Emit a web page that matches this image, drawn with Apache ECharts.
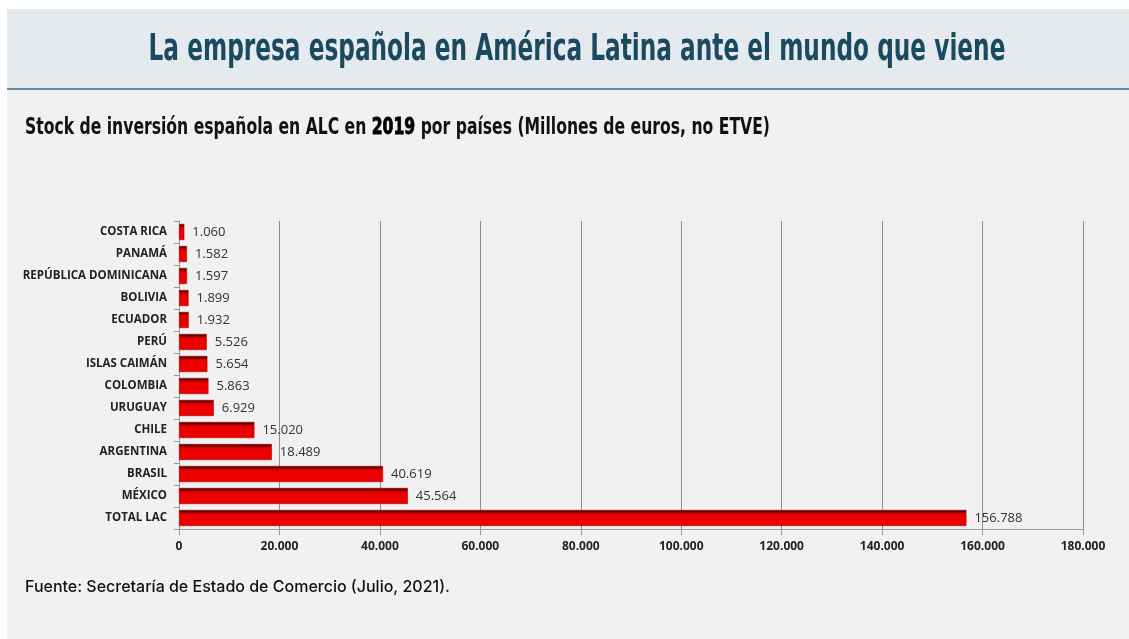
<!DOCTYPE html>
<html>
<head>
<meta charset="utf-8">
<script src="https://cdn.jsdelivr.net/npm/echarts@6/dist/echarts.min.js"></script>
<style>
html,body{margin:0;padding:0;background:#ffffff;}
#c{width:1129px;height:639px;}
</style>
</head>
<body>
<div id="c"></div>
<script>
var categories = ['COSTA RICA','PANAMÁ','REPÚBLICA DOMINICANA','BOLIVIA','ECUADOR','PERÚ','ISLAS CAIMÁN','COLOMBIA','URUGUAY','CHILE','ARGENTINA','BRASIL','MÉXICO','TOTAL LAC'];
var values = [1060,1582,1597,1899,1932,5526,5654,5863,6929,15020,18489,40619,45564,156788];
var axisMin = 0, axisMax = 180000, axisStep = 20000;
var titleText = 'La empresa española en América Latina ante el mundo que viene';
var subtitleParts = ['Stock de inversión española en ALC en ', '2019', ' por países (Millones de euros, no ETVE)'];
var sourceText = 'Fuente: Secretaría de Estado de Comercio (Julio, 2021).';

function fmt(v){
  return String(Math.round(v)).replace(/\B(?=(\d{3})+(?!\d))/g, '.');
}

var condensed = '"DejaVu Sans Condensed", "Liberation Sans Narrow", sans-serif';
var chart = echarts.init(document.getElementById('c'), null, {renderer:'canvas'});
var option = {
  backgroundColor: '#ffffff',
  animation: false,
  graphic: [
    {type:'rect', shape:{x:7,y:9,width:1122,height:630}, style:{fill:'#f1f1f1'}, z:-10},
    {type:'rect', shape:{x:7,y:9,width:1122,height:80}, style:{fill:'#e4eaee'}, z:-9},
    {type:'rect', shape:{x:7,y:88,width:1122,height:2}, style:{fill:'#6c8899'}, z:-8},
    {type:'text', x:577, y:50, scaleX:0.68, scaleY:1, z:5,
      style:{text:titleText, fontFamily:condensed, fontWeight:'bold', fontSize:38, fill:'#1b4a60', align:'center', verticalAlign:'middle'}},
    {type:'text', x:25, y:128, scaleX:0.755, scaleY:1, z:5,
      style:{
        text:'{a|'+subtitleParts[0]+'}{b|'+subtitleParts[1]+'}{a|'+subtitleParts[2]+'}',
        verticalAlign:'middle',
        rich:{
          a:{fontFamily:condensed, fontWeight:'bold', fontSize:23, fill:'#111111'},
          b:{fontFamily:condensed, fontWeight:'bold', fontSize:23, fill:'#000000', stroke:'#000000', lineWidth:0.9}
        }
      }},
    {type:'text', x:25, y:587, z:5,
      style:{text:sourceText, fontFamily:'"Inter", "Liberation Sans", sans-serif', fontWeight:500, fontSize:16, fill:'#111111', verticalAlign:'middle'}}
  ],
  grid: {left:179, right:46, top:221, bottom:110, containLabel:false},
  xAxis: {
    type:'value', min:axisMin, max:axisMax, interval:axisStep,
    axisLine:{show:true, lineStyle:{color:'#9a9a9a', width:1}},
    axisTick:{show:true, length:6, lineStyle:{color:'#9a9a9a'}},
    splitLine:{show:true, lineStyle:{color:'#8f8f8f', width:1}},
    axisLabel:{formatter:function(v){return fmt(v);}, color:'#222222', fontFamily:'"Open Sans", sans-serif', fontWeight:'bold', fontSize:12, margin:12}
  },
  yAxis: {
    type:'category', data:categories, inverse:true,
    axisLine:{show:true, lineStyle:{color:'#9a9a9a', width:1}},
    axisTick:{show:true, length:5, lineStyle:{color:'#9a9a9a'}},
    axisLabel:{color:'#222222', fontFamily:'"Open Sans", sans-serif', fontWeight:'bold', fontSize:11.5, margin:12}
  },
  series: [{
    type:'bar', data:values, barCategoryGap:'27%',
    itemStyle:{
      color:{type:'linear', x:0, y:0, x2:0, y2:1, colorStops:[
        {offset:0, color:'#2a0000'},
        {offset:0.12, color:'#7a0000'},
        {offset:0.24, color:'#e00000'},
        {offset:0.5, color:'#f00000'},
        {offset:1, color:'#e80000'}
      ]},
      borderColor:'#b00000', borderWidth:0.6
    },
    label:{show:true, position:'right', distance:8, formatter:function(p){return fmt(p.value);}, color:'#333333', fontFamily:'"Open Sans", sans-serif', fontSize:13}
  }]
};
chart.setOption(option);
</script>
</body>
</html>
